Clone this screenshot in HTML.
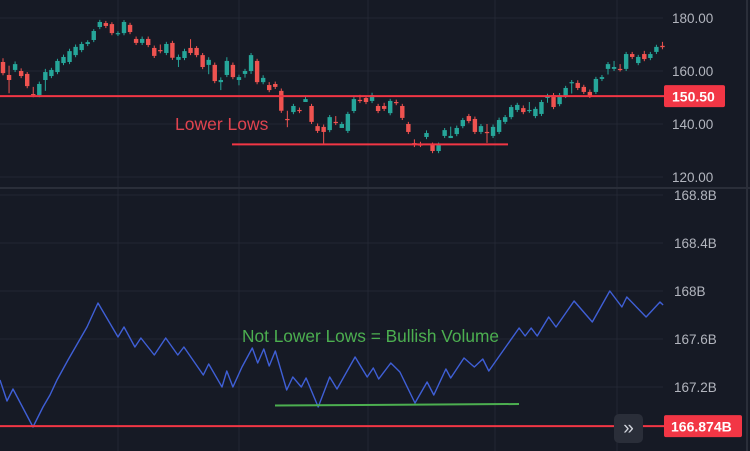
<!DOCTYPE html>
<html><head><meta charset="utf-8"><style>
html,body{margin:0;padding:0;background:#161a25;}
svg{display:block;font-family:"Liberation Sans",sans-serif;}
</style></head><body>
<svg id="c" width="750" height="451" xmlns="http://www.w3.org/2000/svg">
<rect width="750" height="451" fill="#161a25"/>
<g id="grid"></g>
<g id="candles"></g>
<g id="vol"></g>
<g id="ann"></g>
<g id="axes"></g>
</svg>
<script>
const opens=[163.4,158.5,160.4,160.0,158.9,151.3,150.9,156.6,158.1,159.6,163.0,163.4,166.0,167.9,170.2,171.7,176.6,178.1,177.7,174.0,174.3,177.4,172.1,170.6,172.1,168.7,167.9,166.8,170.6,164.2,164.9,168.7,168.7,166.0,162.3,162.3,155.8,158.5,162.3,156.6,158.9,160.0,163.8,155.8,154.7,155.1,152.5,141.9,144.5,145.3,148.3,146.8,139.2,138.9,137.7,140.8,138.5,137.4,144.9,149.1,149.8,148.7,146.8,146.8,144.1,148.3,146.8,140.0,132.8,132.3,135.1,132.1,129.8,135.5,134.7,136.2,139.2,143.0,141.9,137.0,137.0,135.5,137.0,140.8,142.6,145.3,146.0,145.0,143.0,143.8,149.8,150.9,147.5,150.6,155.5,155.5,154.0,152.1,152.1,157.0,160.8,160.8,160.8,160.8,166.4,163.0,166.4,164.9,167.2,169.5];
const closes=[159.2,156.6,162.6,158.1,154.3,150.9,155.1,159.6,160.4,163.8,165.3,167.5,169.1,170.2,170.9,175.1,178.5,177.0,174.3,174.3,178.5,174.7,170.6,172.1,169.8,165.7,167.5,170.2,165.0,165.3,167.5,166.8,166.0,161.5,164.2,156.2,156.6,163.8,157.7,157.7,160.0,166.0,155.8,157.4,152.8,154.0,145.0,141.5,146.8,144.9,149.4,140.8,137.4,137.0,142.6,140.4,140.0,143.8,149.4,148.7,148.3,150.9,144.9,145.7,148.7,147.9,142.3,137.0,132.1,132.1,136.6,129.8,132.1,137.7,135.5,138.5,141.5,141.1,137.0,139.2,136.6,138.9,141.5,142.6,146.4,147.2,144.5,145.3,145.7,148.3,150.6,146.4,150.9,153.6,155.8,153.6,152.1,150.6,157.0,157.7,162.6,161.5,160.6,166.4,165.3,165.3,164.5,166.4,169.1,169.0];
const highs=[164.8,162.0,163.6,161.0,159.6,154.0,156.0,160.8,161.2,164.6,166.2,168.4,170.0,171.0,171.6,175.8,179.3,178.9,178.4,175.0,179.2,178.2,173.0,173.0,173.0,169.6,170.0,171.0,171.4,166.2,168.4,172.0,169.4,166.8,165.2,163.2,157.6,165.2,163.2,158.6,160.8,166.8,164.6,158.4,155.8,156.0,153.4,145.0,147.6,146.2,150.6,147.6,140.2,139.8,143.4,143.0,140.8,144.6,150.2,151.0,150.6,151.8,147.6,148.0,149.5,149.2,147.6,140.8,134.2,133.3,137.6,133.0,133.0,138.5,139.0,139.4,142.3,143.8,142.8,140.0,140.0,139.8,142.4,143.4,147.2,148.0,147.0,148.3,146.5,149.1,151.4,151.7,151.7,154.4,156.6,156.5,154.8,153.0,157.8,158.5,163.4,163.8,162.6,167.2,167.2,166.1,167.6,167.2,169.9,171.0];
const lows=[158.4,151.6,159.6,157.3,153.5,150.1,150.1,152.5,157.3,158.8,162.2,162.6,165.2,167.1,169.4,170.9,175.8,176.2,173.5,173.2,173.5,173.9,169.8,169.8,169.0,164.9,166.7,166.0,164.2,161.5,164.1,166.0,165.2,160.7,158.8,155.4,152.8,157.7,156.9,154.6,157.5,158.9,155.0,155.0,152.0,153.2,144.2,138.8,143.7,144.1,148.5,140.0,136.6,132.5,136.9,139.6,139.2,136.6,144.1,147.9,147.5,147.9,144.1,144.9,143.3,147.1,141.5,136.2,131.3,131.3,134.3,129.0,129.0,134.7,134.7,135.4,138.4,140.3,136.2,136.2,132.9,134.7,136.2,140.0,141.8,144.5,143.7,144.2,142.2,143.0,148.0,145.6,146.7,149.8,151.5,152.8,151.3,149.8,151.3,156.2,158.7,160.0,159.8,160.0,164.5,162.2,163.7,164.1,166.4,168.2];
const obvIdx=[-0.5,0.66,1.65,4.96,6.61,7.77,8.93,10.74,13.88,15.7,19.0,20.0,21.8,22.8,25.0,26.9,28.9,29.9,33.1,34.0,36.2,37.0,38.0,39.5,41.2,42.1,43.1,44.0,45.0,46.9,47.9,49.3,50.1,52.1,54.0,55.2,58.2,60.2,61.2,62.1,64.1,65.6,68.1,70.1,71.2,73.2,74.0,76.2,77.9,79.3,80.3,85.3,86.3,87.3,88.3,90.2,91.4,94.4,97.4,100.3,102.3,103.1,106.3,108.6,109.1];
const obvVals=[167.258,167.083,167.183,166.867,167.033,167.133,167.258,167.425,167.700,167.900,167.617,167.700,167.533,167.608,167.467,167.608,167.467,167.533,167.300,167.392,167.200,167.333,167.200,167.367,167.525,167.400,167.517,167.375,167.500,167.175,167.283,167.200,167.275,167.033,167.283,167.183,167.450,167.283,167.358,167.267,167.400,167.325,167.067,167.242,167.133,167.350,167.275,167.442,167.367,167.433,167.333,167.692,167.625,167.692,167.625,167.783,167.700,167.917,167.742,168.000,167.867,167.950,167.783,167.908,167.883];
const priceTicks=[180,160,140,120];
const volTicks=[168.8,168.4,168,167.6,167.2];
const volTickLabels=["168.8B","168.4B","168B","167.6B","167.2B"];
const priceLevel=150.5;
const volLevel=166.874;
const lowerLowsLevel=132.3;
const notLowerLevel=167.05;

const NS="http://www.w3.org/2000/svg";
const X=i=>3+i*6.05;
const PY=p=>18+(180-p)*2.65;
const VY=v=>195+(168.8-v)*120;
function mk(tag,attrs,parent){const e=document.createElementNS(NS,tag);for(const k in attrs)e.setAttribute(k,attrs[k]);parent.appendChild(e);return e;}
const grid=document.getElementById('grid'),cg=document.getElementById('candles'),vg=document.getElementById('vol'),an=document.getElementById('ann'),ax=document.getElementById('axes');

[118,239,368,495,617].forEach(x=>{const l=mk('line',{x1:x,x2:x,y1:0,y2:451,stroke:'#232733','stroke-width':1},grid);

});
priceTicks.forEach(t=>{const l=mk('line',{x1:0,x2:663,y1:PY(t),y2:PY(t),stroke:'#232733'},grid);


const tx=mk('text',{x:672,y:PY(t)+5,fill:'#b2b5be','font-size':13.5},ax);tx.textContent=t.toFixed(2);

});
volTicks.forEach((t,i)=>{const l=mk('line',{x1:0,x2:663,y1:VY(t),y2:VY(t),stroke:'#232733'},grid);


const tx=mk('text',{x:674,y:VY(t)+5,fill:'#b2b5be','font-size':13.5},ax);tx.textContent=volTickLabels[i];

});
const dv=mk('line',{x1:0,x2:750,y1:188,y2:188,stroke:'#2a2e39','stroke-width':2},grid);


const rb=mk('line',{x1:747,x2:747,y1:0,y2:451,stroke:'#2a2e39','stroke-width':2},grid);



opens.forEach((o,i)=>{const c=closes[i];const col=c>=o?'#26a69a':'#ef5350';const x=X(i);
const g=mk('g',{},cg);


mk('line',{x1:x,x2:x,y1:PY(highs[i]),y2:PY(lows[i]),stroke:col,'stroke-width':1},g);
const top=PY(Math.max(o,c)),bot=PY(Math.min(o,c));
mk('rect',{x:x-2.2,y:top,width:4.4,height:Math.max(1.2,bot-top),fill:col},g);});

const pl=mk('line',{x1:0,x2:664,y1:PY(priceLevel),y2:PY(priceLevel),stroke:'#f23645','stroke-width':2},an);


const ll=mk('line',{x1:232,x2:508,y1:PY(lowerLowsLevel),y2:PY(lowerLowsLevel),stroke:'#f23645','stroke-width':2},an);


const lt=mk('text',{x:175,y:130,fill:'#e0434f','font-size':17.5},an);lt.textContent='Lower Lows';



let d='';obvIdx.forEach((ix,i)=>{d+=(i?'L':'M')+X(ix).toFixed(1)+' '+VY(obvVals[i]).toFixed(1);});
const ob=mk('path',{d:d,fill:'none',stroke:'#3f5fd6','stroke-width':1.4,'stroke-linejoin':'round'},vg);


const vl=mk('line',{x1:0,x2:664,y1:VY(volLevel),y2:VY(volLevel),stroke:'#f23645','stroke-width':2},an);


const gl=mk('line',{x1:275,x2:519,y1:VY(notLowerLevel)+0.5,y2:VY(notLowerLevel)-1,stroke:'#4caf50','stroke-width':2},an);


const gt=mk('text',{x:242,y:342,fill:'#4caf50','font-size':17.3},an);gt.textContent='Not Lower Lows = Bullish Volume';



const pb=mk('rect',{x:664,y:PY(priceLevel)-11,width:61,height:22,rx:2,fill:'#f23645'},ax);


const pbt=mk('text',{x:672,y:PY(priceLevel)+5.5,fill:'#fff','font-size':14,'font-weight':'bold'},ax);pbt.textContent=priceLevel.toFixed(2);


const vb=mk('rect',{x:664,y:VY(volLevel)-11,width:78,height:22,rx:2,fill:'#f23645'},ax);


const vbt=mk('text',{x:671,y:VY(volLevel)+5.5,fill:'#fff','font-size':14,'font-weight':'bold'},ax);vbt.textContent=volLevel.toFixed(3)+'B';



const sb=mk('rect',{x:614,y:414,width:29,height:29,rx:5,fill:'#2a2e39'},ax);


const st=mk('text',{x:628.5,y:434,fill:'#d1d4dc','font-size':19,'text-anchor':'middle'},ax);st.textContent='»';


</script>
</body></html>
